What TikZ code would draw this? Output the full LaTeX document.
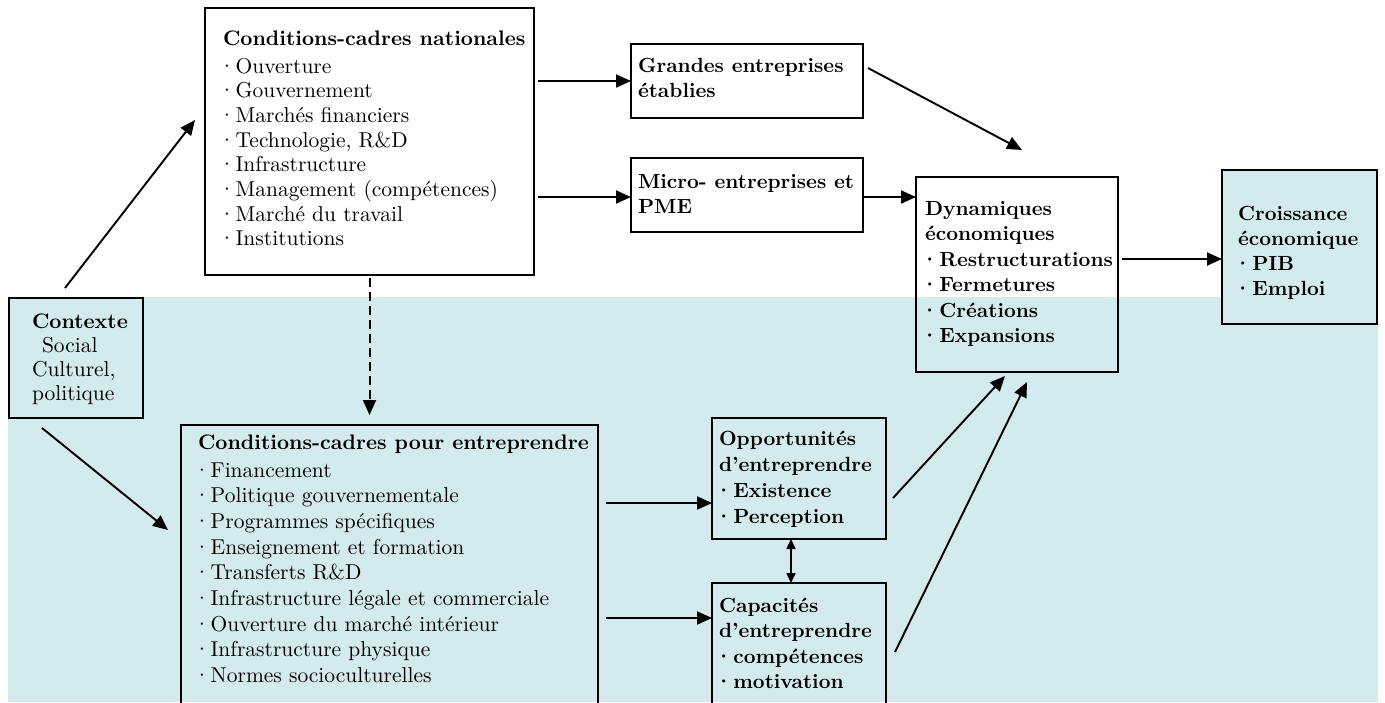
\documentclass[tikz,border=0pt]{standalone}
\usepackage{fontspec}
% use the 10pt design of Latin Modern at every size
\setmainfont{lmroman10-regular}[Extension=.otf, BoldFont=lmroman10-bold, ItalicFont=lmroman10-italic, BoldItalicFont=lmroman10-bolditalic]
\usetikzlibrary{arrows.meta,calc}

\definecolor{bandblue}{RGB}{211,234,238}

% bold heading inside a text block
\newcommand\hd[1]{{\fontsize{21}{24}\selectfont\bfseries #1}}
% list bullet, pulled left so the dot lines up with the heading
\newcommand\bul{\hspace{-4.5pt}·\hspace{0.5pt}}

\tikzset{
  frame/.style={draw=black, line width=1.9pt, inner sep=0pt, outer sep=0pt, anchor=north west},
  txt/.style={inner sep=0pt, outer sep=0pt, anchor=base west, align=left},
  rtxt/.style={txt, font=\fontsize{21.5}{25.5}\selectfont},
  btxt/.style={txt, font=\fontsize{20.5}{25.5}\selectfont\bfseries},
  arr/.style={line width=1.9pt, -{Triangle[length=15pt,width=13pt]}},
  dasharr/.style={line width=2pt, dash pattern=on 9pt off 5pt, -{Triangle[length=15pt,width=13pt]}},
  twoway/.style={line width=1.6pt, {Triangle[length=10pt,width=9pt]}-{Triangle[length=10pt,width=9pt]}},
}

\begin{document}
\begin{tikzpicture}[x=1pt,y=-1pt]
\useasboundingbox (0,0) rectangle (1385,702);
\clip (0,0) rectangle (1385,702);

% shaded lower band
\fill[bandblue] (8,297) rectangle (1378,702);

% frames
\node[frame, fill=white, minimum width=329pt, minimum height=267pt] (cnat) at (205,8) {};
\node[frame, fill=white, minimum width=232pt, minimum height=74pt] (grandes) at (631,44) {};
\node[frame, fill=white, minimum width=232pt, minimum height=74pt] (micro) at (631,158) {};
\node[frame, minimum width=202pt, minimum height=195pt] (dyn) at (916,177) {};
\node[frame, fill=bandblue, minimum width=155pt, minimum height=154pt] (croiss) at (1222,170) {};
\node[frame, fill=bandblue, minimum width=134pt, minimum height=120pt] (ctx) at (9,298) {};
\node[frame, minimum width=417pt, minimum height=300pt] (centr) at (181,425) {};
\node[frame, minimum width=174pt, minimum height=121pt] (opp) at (712,418) {};
\node[frame, minimum width=174pt, minimum height=140pt] (cap) at (712,583) {};

% texts
\node[rtxt, font=\fontsize{21.5}{24.7}\selectfont] (cnat-t) at (223,45) {\begin{tabular}[t]{@{}l@{}}
\hd{Conditions-cadres nationales}\\[3.3pt]
\bul Ouverture\\
\bul Gouvernement\\
\bul Marchés financiers\\
\bul Technologie, R\&D\\
\bul Infrastructure\\
\bul Management (compétences)\\
\bul Marché du travail\\
\bul Institutions
\end{tabular}};

\node[rtxt, font=\fontsize{21.5}{25.7}\selectfont] (centr-t) at (198,449) {\begin{tabular}[t]{@{}l@{}}
\hd{Conditions-cadres pour entreprendre}\\[2.3pt]
\bul Financement\\
\bul Politique gouvernementale\\
\bul Programmes spécifiques\\
\bul Enseignement et formation\\
\bul Transferts R\&D\\
\bul Infrastructure légale et commerciale\\
\bul Ouverture du marché intérieur\\
\bul Infrastructure physique\\
\bul Normes socioculturelles
\end{tabular}};

\node[rtxt, font=\fontsize{21.5}{24}\selectfont] (ctx-t) at (32,328) {\begin{tabular}[t]{@{}l@{}}
\hd{Contexte}\\
\hspace{10pt}Social\\
Culturel,\\
politique
\end{tabular}};

\node[btxt] (grandes-t) at (638,72) {\begin{tabular}[t]{@{}l@{}}
Grandes entreprises\\
établies
\end{tabular}};

\node[btxt] (micro-t) at (638,188) {\begin{tabular}[t]{@{}l@{}}
Micro- entreprises et\\
PME
\end{tabular}};

\node[btxt] (dyn-t) at (925,215) {\begin{tabular}[t]{@{}l@{}}
Dynamiques\\
économiques\\
\bul Restructurations\\
\bul Fermetures\\
\bul Créations\\
\bul Expansions
\end{tabular}};

\node[btxt, font=\fontsize{20.5}{25}\selectfont\bfseries] (croiss-t) at (1238,220) {\begin{tabular}[t]{@{}l@{}}
Croissance\\
économique\\
\bul PIB\\
\bul Emploi
\end{tabular}};

\node[btxt, font=\fontsize{20.5}{26}\selectfont\bfseries] (opp-t) at (719,445) {\begin{tabular}[t]{@{}l@{}}
Opportunités\\
d’entreprendre\\
\bul Existence\\
\bul Perception
\end{tabular}};

\node[btxt] (cap-t) at (719,612) {\begin{tabular}[t]{@{}l@{}}
Capacités\\
d’entreprendre\\
\bul compétences\\
\bul motivation
\end{tabular}};

% connectors
\draw[arr] ($(ctx.north)+(-11,-10)$) -- ($(cnat.west)+(-10,-21.5)$);
\draw[arr] ($(ctx.south)+(-34,10)$) -- ($(centr.north west)+(-13,105)$);
\draw[dasharr] ($(cnat.south)+(0,3)$) -- ($(cnat.south |- centr.north)+(0,-10)$);
\draw[arr] ($(cnat.east |- grandes.west)+(4,0)$) -- (grandes.west);
\draw[arr] ($(cnat.east |- micro.west)+(4,2)$) -- ($(micro.west)+(0,2)$);
\draw[arr] ($(grandes.east)+(5,-13)$) -- ($(dyn.north)+(5,-27)$);
\draw[arr] ($(micro.east)+(0,2)$) -- ($(dyn.west |- micro.east)+(0,2)$);
\draw[arr] ($(dyn.north east)+(4,82)$) -- ($(croiss.west |- dyn.north east)+(0,82)$);
\draw[arr] ($(centr.east |- opp.west)+(8,24.5)$) -- ($(opp.west)+(0,24.5)$);
\draw[arr] ($(centr.east |- cap.north west)+(8,35)$) -- ($(cap.north west)+(0,35)$);
\draw[twoway] ($(opp.south)+(-8,0)$) -- ($(cap.north)+(-8,0)$);
\draw[arr] ($(opp.east)+(7,19.5)$) -- ($(dyn.south)+(-12,4)$);
\draw[arr] ($(cap.north east)+(9,69)$) -- ($(dyn.south)+(10,10)$);
\end{tikzpicture}
\end{document}
